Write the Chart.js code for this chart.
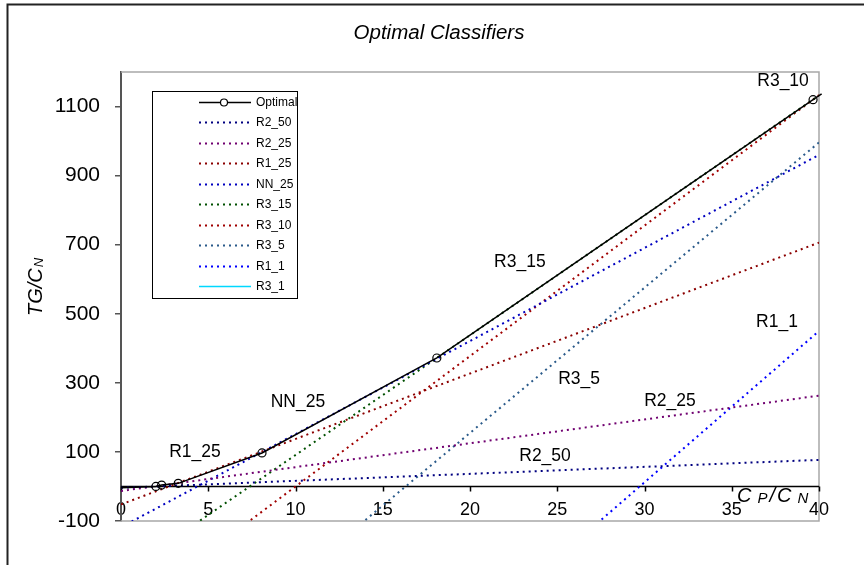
<!DOCTYPE html>
<html>
<head>
<meta charset="utf-8">
<script src="https://cdn.jsdelivr.net/npm/chart.js@4.4.1/dist/chart.umd.min.js"></script>
<style>
html, body { margin: 0; padding: 0; background: #fff; }
#wrap { width: 864px; height: 565px; }
</style>
</head>
<body>
<div id="wrap"><canvas id="chart" width="864" height="565"></canvas></div>
<script>
// each classifier is a straight line, read at both ends of the Cp/Cn axis
const lineX = [0, 40];

const optimalX = [0, 2.0, 2.33, 3.28, 8.08, 18.1, 39.66, 40.15];
const optimalY = [-4, 0, 4, 9, 97, 372, 1120, 1137];

const r2_50 = [-4, 77];
const r2_25 = [-13, 263];
const r1_25 = [-52, 706];
const nn_25 = [-118, 960];
const r3_15 = [-256, 1132];
const r3_10 = [-378, 1133];
const r3_5 = [-686, 996];
const r1_1 = [-1302, 450];
const r3_1 = [-1950, -140];

const xTicks = [0, 5, 10, 15, 20, 25, 30, 35, 40];
const yTicks = [-100, 100, 300, 500, 700, 900, 1100];

const FONT = '"Liberation Sans", Arial, sans-serif';
Chart.defaults.font.family = FONT;

function dotted(label, ys, color) {
    return {
        label: label,
        data: lineX.map((x, i) => ({ x: x, y: ys[i] })),
        borderColor: color,
        borderWidth: 2,
        borderDash: [2, 4],
        pointRadius: 0,
        showLine: true,
        fill: false
    };
}

const datasets = [
    {
        label: "Optimal",
        data: optimalX.map((x, i) => ({ x: x, y: optimalY[i] })),
        borderColor: "#000",
        borderWidth: 1.5,
        pointRadius: optimalX.map((x, i) => (i === 0 || i === optimalX.length - 1) ? 0 : 4),
        pointBorderColor: "#000",
        pointBorderWidth: 1.2,
        pointBackgroundColor: "rgba(0,0,0,0)",
        showLine: true,
        fill: false,
        clip: { left: 0, top: 6, right: 6, bottom: 0 }
    },
    dotted("R2_50", r2_50, "#000080"),
    dotted("R2_25", r2_25, "#700070"),
    dotted("R1_25", r1_25, "#8b0000"),
    dotted("NN_25", nn_25, "#0000c0"),
    dotted("R3_15", r3_15, "#005000"),
    dotted("R3_10", r3_10, "#a00000"),
    dotted("R3_5", r3_5, "#2a5a8a"),
    dotted("R1_1", r1_1, "#0000ff"),
    {
        label: "R3_1",
        data: lineX.map((x, i) => ({ x: x, y: r3_1[i] })),
        borderColor: "#00d8ff",
        borderWidth: 1.5,
        pointRadius: 0,
        showLine: true,
        fill: false
    }
];

// frames, zero axis, legend and text that Chart.js cannot place by itself
const decor = {
    id: "decor",
    beforeDraw(chart) {
        const ctx = chart.ctx;
        ctx.save();
        ctx.fillStyle = "#fff";
        ctx.fillRect(0, 0, chart.width, chart.height);
        ctx.strokeStyle = "#222";
        ctx.lineWidth = 2;
        ctx.beginPath();
        ctx.moveTo(7.5, chart.height);
        ctx.lineTo(7.5, 4.5);
        ctx.lineTo(chart.width, 4.5);
        ctx.stroke();
        ctx.restore();
    },
    beforeDatasetsDraw(chart) {
        const ctx = chart.ctx, a = chart.chartArea;
        const xs = chart.scales.x, ys = chart.scales.y;
        ctx.save();
        // plot frame
        ctx.strokeStyle = "#a8a8a8";
        ctx.lineWidth = 1.5;
        ctx.beginPath();
        ctx.moveTo(a.left, a.top);
        ctx.lineTo(a.right, a.top);
        ctx.lineTo(a.right, a.bottom);
        ctx.lineTo(a.left, a.bottom);
        ctx.stroke();
        // x axis drawn at TG = 0
        const y0 = Math.round(ys.getPixelForValue(0)) + 0.5;
        ctx.strokeStyle = "#000";
        ctx.lineWidth = 1.5;
        ctx.beginPath();
        ctx.moveTo(a.left, y0);
        ctx.lineTo(a.right, y0);
        xs.ticks.forEach(t => {
            const px = Math.round(xs.getPixelForValue(t.value)) + 0.5;
            ctx.moveTo(px, y0);
            ctx.lineTo(px, y0 + 5);
        });
        ctx.stroke();
        ctx.restore();
    },
    afterDraw(chart) {
        const ctx = chart.ctx;
        const xs = chart.scales.x, ys = chart.scales.y;
        ctx.save();
        ctx.fillStyle = "#000";

        // title
        ctx.font = "italic 20.5px " + FONT;
        ctx.textAlign = "center";
        ctx.textBaseline = "middle";
        ctx.fillText("Optimal Classifiers", 439, 33);

        // line labels
        const notes = [
            ["R3_10", 37.94, 1172], ["R3_15", 22.86, 648], ["NN_25", 10.14, 245],
            ["R1_25", 4.24, 100], ["R3_5", 26.25, 312], ["R1_1", 37.59, 477],
            ["R2_25", 31.46, 248], ["R2_50", 24.3, 88]
        ];
        ctx.font = "17.5px " + FONT;
        notes.forEach(n => {
            ctx.fillText(n[0], xs.getPixelForValue(n[1]), ys.getPixelForValue(n[2]));
        });

        // x axis title  C_P / C_N
        ctx.textAlign = "left";
        ctx.textBaseline = "alphabetic";
        let cx = 737;
        const big = "italic 20px " + FONT, small = "italic 15px " + FONT;
        [["C", big, 0, 6], ["P", small, 1, 2], ["/", big, 0, 2], ["C", big, 0, 6], ["N", small, 1, 0]].forEach(p => {
            ctx.font = p[1];
            ctx.fillText(p[0], cx, 502 + p[2]);
            cx += ctx.measureText(p[0]).width + p[3];
        });

        // y axis title  TG/C_N
        ctx.translate(42, 316);
        ctx.rotate(-Math.PI / 2);
        ctx.font = big;
        ctx.fillText("TG/C", 0, 0);
        const w = ctx.measureText("TG/C").width;
        ctx.font = "italic 13px " + FONT;
        ctx.fillText("N", w + 1, 1);
        ctx.restore();

        // legend box
        ctx.save();
        ctx.fillStyle = "#fff";
        ctx.fillRect(152, 91, 145, 207);
        ctx.strokeStyle = "#000";
        ctx.lineWidth = 1;
        ctx.strokeRect(152.5, 91.5, 145, 207);
        ctx.font = "12px " + FONT;
        ctx.textBaseline = "middle";
        chart.data.datasets.forEach((ds, i) => {
            const y = Math.round(102 + i * 20.45) + 0.5;
            ctx.strokeStyle = ds.borderColor;
            ctx.lineWidth = ds.borderWidth;
            ctx.setLineDash(ds.borderDash || []);
            ctx.beginPath();
            ctx.moveTo(199, y);
            ctx.lineTo(251, y);
            ctx.stroke();
            ctx.setLineDash([]);
            if (i === 0) {
                ctx.fillStyle = "#fff";
                ctx.lineWidth = 1.2;
                ctx.beginPath();
                ctx.arc(224, y, 3.5, 0, Math.PI * 2);
                ctx.fill();
                ctx.stroke();
            }
            ctx.fillStyle = "#000";
            ctx.fillText(ds.label, 256, y);
        });
        ctx.restore();
    }
};

new Chart(document.getElementById("chart"), {
    type: "scatter",
    data: { datasets: datasets },
    options: {
        responsive: false,
        animation: false,
        layout: { padding: { top: 72, right: 45, left: 0, bottom: 0 } },
        plugins: { legend: { display: false }, title: { display: false }, tooltip: { enabled: false } },
        scales: {
            x: {
                type: "linear",
                min: 0,
                max: 40,
                afterBuildTicks: s => { s.ticks = xTicks.map(v => ({ value: v })); },
                afterFit: s => { s.height = 44; },
                grid: { display: false },
                border: { display: false },
                ticks: {
                    color: "#000", font: { size: 18 }, mirror: true, padding: 0,
                    maxRotation: 0, autoSkip: false, callback: v => String(v)
                }
            },
            y: {
                type: "linear",
                min: -100,
                max: 1200,
                afterBuildTicks: s => { s.ticks = yTicks.map(v => ({ value: v })); },
                afterFit: s => { s.width = 121; },
                grid: { drawOnChartArea: false, tickLength: 6, color: "#555", lineWidth: 1.5 },
                border: { color: "#555", width: 2 },
                ticks: { color: "#000", font: { size: 21 }, padding: 15, callback: v => String(v) }
            }
        }
    },
    plugins: [decor]
});
</script>
</body>
</html>
